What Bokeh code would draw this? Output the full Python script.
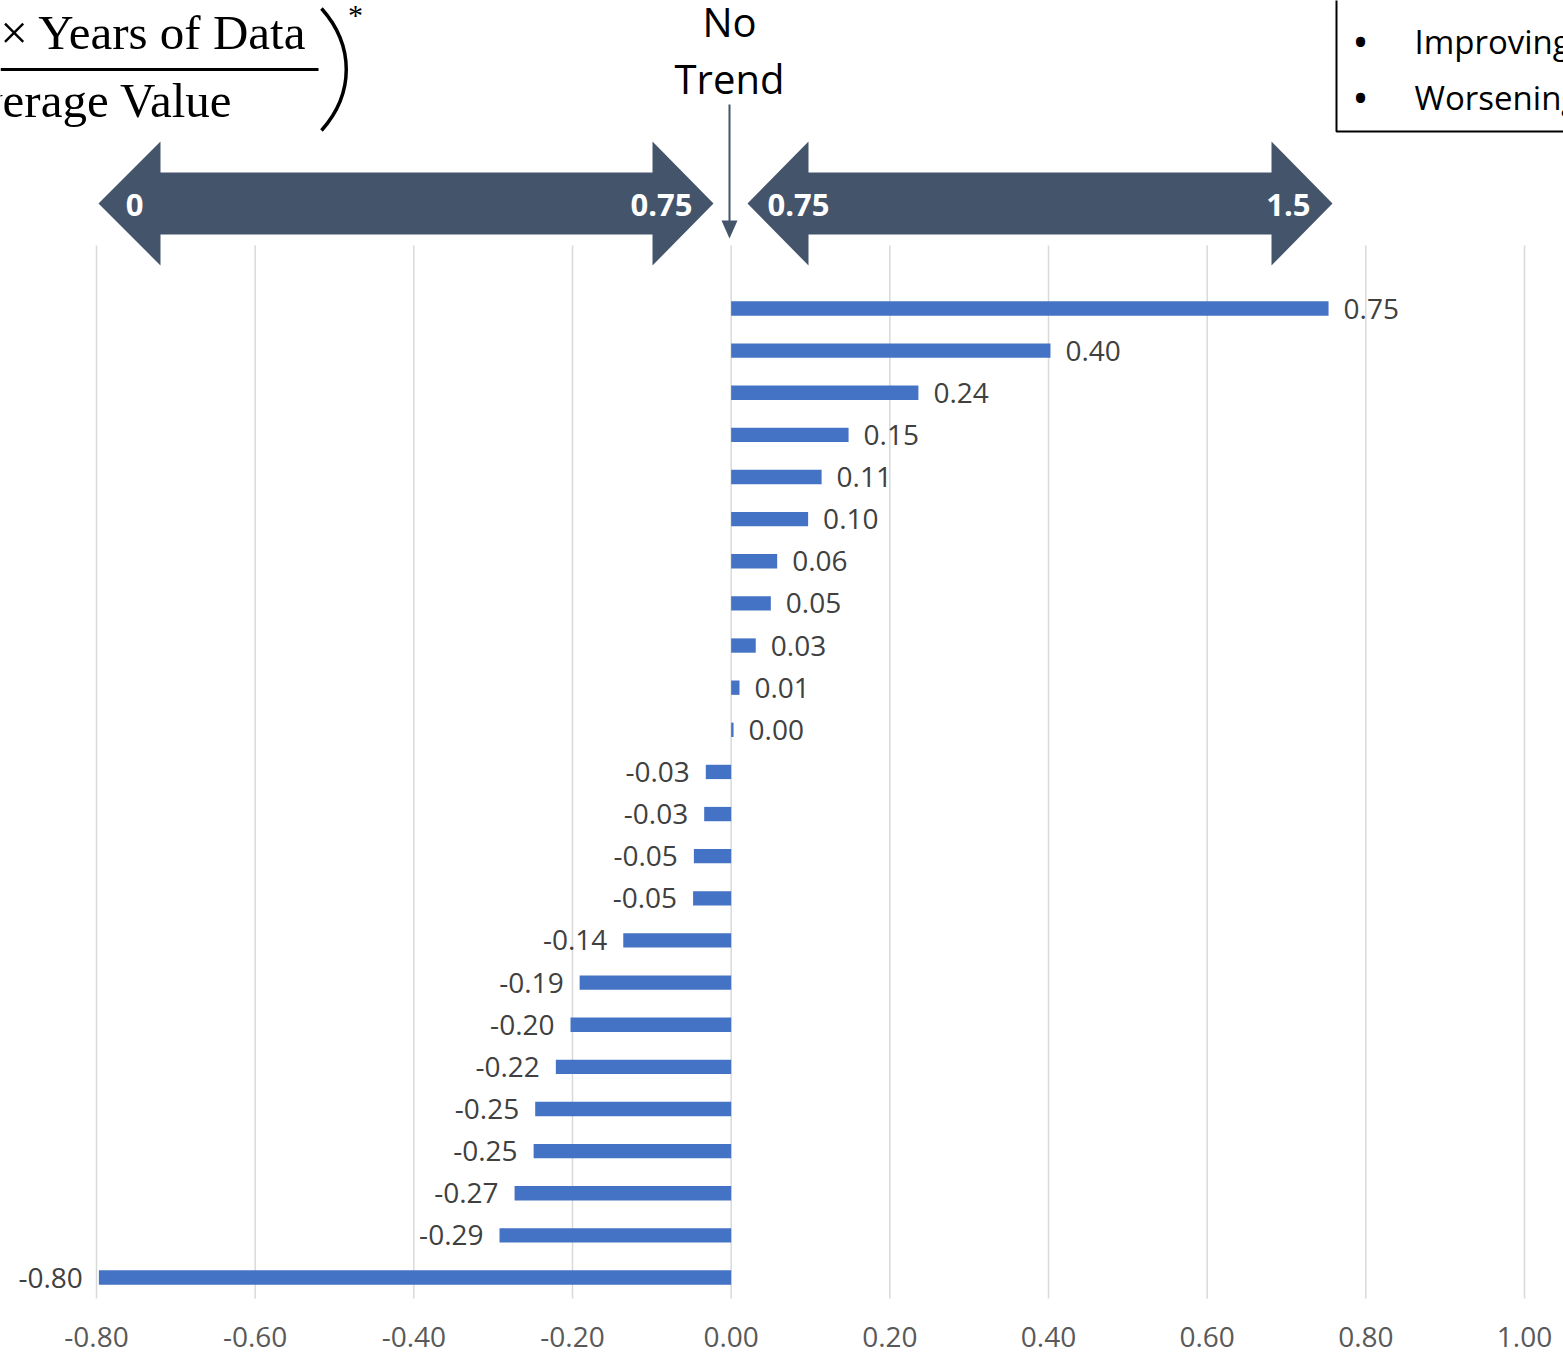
from bokeh.plotting import figure
from bokeh.models import Range1d, FixedTicker, ColumnDataSource
from bokeh.core.properties import value
from bokeh.embed import file_html
from bokeh.resources import INLINE

# ---------------- data ----------------
values = [0.753, 0.4025, 0.236, 0.148, 0.114, 0.097, 0.058, 0.050, 0.031, 0.0105, 0.003,
          -0.032, -0.034, -0.047, -0.048, -0.136, -0.191, -0.2025, -0.221, -0.247,
          -0.249, -0.273, -0.292, -0.797]
x_ticks = [-0.8, -0.6, -0.4, -0.2, 0.0, 0.2, 0.4, 0.6, 0.8, 1.0]
x_tick_labels = ["-0.80", "-0.60", "-0.40", "-0.20", "0.00", "0.20", "0.40", "0.60", "0.80", "1.00"]
arrow_left_labels = ["0", "0.75"]
arrow_right_labels = ["0.75", "1.5"]
legend_items = ["Improving", "Worsening"]

# ---------------- geometry helpers (reference pixel -> data) ----------------
W, H = 1563, 1354
OFFSET = 0
PX_PER_X = (1524 - 96) / 1.8
BAND = (1277 - 308) / 23.0


def X(px):
    return -0.8 + (px - 96) / PX_PER_X


def Y(py):
    return (1277 - py) / BAND


p = figure(width=W, height=H, output_backend="svg", toolbar_location=None,
           x_range=Range1d(X(OFFSET), X(OFFSET + W)),
           y_range=Range1d(Y(OFFSET + H), Y(OFFSET)),
           y_axis_location=None, min_border=0, min_border_left=0, min_border_right=0,
           min_border_top=0, min_border_bottom=0)
p.outline_line_color = None
p.background_fill_color = "white"
p.border_fill_color = "white"
p.grid.visible = False

# x axis
ax = p.xaxis[0]
ax.fixed_location = Y(1320)
ax.ticker = FixedTicker(ticks=x_ticks)
ax.major_label_overrides = {t: l for t, l in zip(x_ticks, x_tick_labels)}
ax.axis_line_color = None
ax.major_tick_line_color = None
ax.minor_tick_line_color = None
ax.major_label_standoff = 0
ax.major_label_text_font = "Open Sans"
ax.major_label_text_font_size = "28px"
ax.major_label_text_color = "#595959"

# gridlines (only over the plot area)
p.segment(x0=x_ticks, x1=x_ticks, y0=[Y(245)] * len(x_ticks), y1=[Y(1298)] * len(x_ticks),
          line_color="#D9D9D9", line_width=1.5)

# bars
n = len(values)
ks = [n - 1 - i for i in range(n)]
labels = [f"{v:.2f}" for v in values]
src = ColumnDataSource(dict(y=ks, v=values, lab=labels))
p.hbar(y="y", left=0, right="v", height=0.34, source=src, fill_color="#4472C4", line_color=None)

pos = ColumnDataSource(dict(y=[k for k, v in zip(ks, values) if v >= 0],
                            v=[v for v in values if v >= 0],
                            lab=[l for l, v in zip(labels, values) if v >= 0]))
neg = ColumnDataSource(dict(y=[k for k, v in zip(ks, values) if v < 0],
                            v=[v for v in values if v < 0],
                            lab=[l for l, v in zip(labels, values) if v < 0]))
p.text(x="v", y="y", text="lab", source=pos, x_offset=15, text_align="left", text_baseline="middle",
       text_font=value("Open Sans"), text_font_size="28px", text_color="#404040")
p.text(x="v", y="y", text="lab", source=neg, x_offset=-16, text_align="right", text_baseline="middle",
       text_font=value("Open Sans"), text_font_size="28px", text_color="#404040")

# ---------------- decorations ----------------
ARROW = "#44546A"


def dbl_arrow(x0, xh0, xh1, x1, yc=203, half_head=62, half_shaft=31):
    pts = [(x0, yc), (xh0, yc - half_head), (xh0, yc - half_shaft), (xh1, yc - half_shaft),
           (xh1, yc - half_head), (x1, yc), (xh1, yc + half_head), (xh1, yc + half_shaft),
           (xh0, yc + half_shaft), (xh0, yc + half_head)]
    return [X(a) for a, _ in pts], [Y(b) for _, b in pts]


lx, ly = dbl_arrow(98, 160, 652, 713)
rx, ry = dbl_arrow(747, 808, 1271, 1332)
p.patches(xs=[lx, rx], ys=[ly, ry], fill_color=ARROW, line_color=None)

bold = dict(text_font=value("Open Sans"), text_font_style="bold", text_font_size="31px",
            text_color="white", text_baseline="middle")
p.text(x=[X(134)], y=[Y(204)], text=[arrow_left_labels[0]], text_align="center", **bold)
p.text(x=[X(692)], y=[Y(204)], text=[arrow_left_labels[1]], text_align="right", **bold)
p.text(x=[X(767)], y=[Y(204)], text=[arrow_right_labels[0]], text_align="left", **bold)
p.text(x=[X(1310)], y=[Y(204)], text=[arrow_right_labels[1]], text_align="right", **bold)

# No Trend
p.text(x=[X(729), X(729)], y=[Y(21), Y(78)], text=["No", "Trend"], text_align="center",
       text_baseline="middle", text_font=value("Open Sans"), text_font_size="40px", text_color="black")
p.segment(x0=[X(729)], x1=[X(729)], y0=[Y(104)], y1=[Y(224)], line_color=ARROW, line_width=2)
p.patch(x=[X(721), X(737), X(729)], y=[Y(220), Y(220), Y(238)], fill_color=ARROW, line_color=None)

# formula (top-left)
serif = dict(text_font=value("Liberation Serif"), text_font_size="49px", text_color="black",
             text_baseline="middle")
p.text(x=[X(319)], y=[Y(32)], text=["\u00d7  Years of Data"], text_align="right", **serif)
p.text(x=[X(232)], y=[Y(100)], text=["Average Value"], text_align="right", **serif)
p.segment(x0=[X(0)], x1=[X(318)], y0=[Y(69)], y1=[Y(69)], line_color="black", line_width=3)
p.bezier(x0=[X(321)], y0=[Y(8)], x1=[X(321)], y1=[Y(130)],
         cx0=[X(354)], cy0=[Y(45)], cx1=[X(354)], cy1=[Y(93)], line_color="black", line_width=3.5)
p.text(x=[X(355)], y=[Y(14)], text=["*"], text_align="center", text_baseline="middle",
       text_font=value("Liberation Serif"), text_font_size="30px", text_color="black")

# key box (top-right)
p.quad(left=[X(1336)], right=[X(1620)], top=[Y(-30)], bottom=[Y(131)], fill_color=None,
       line_color="black", line_width=2)
p.text(x=[X(1360), X(1360)], y=[Y(40), Y(96)], text=["\u2022", "\u2022"], text_align="center",
       text_baseline="middle", text_font=value("Open Sans"), text_font_size="44px", text_color="black")
p.text(x=[X(1414), X(1414)], y=[Y(41), Y(97)], text=legend_items, text_align="left",
       text_baseline="middle", text_font=value("Open Sans"), text_font_size="33px", text_color="black")

open("out.html", "w").write(file_html(p, INLINE))
